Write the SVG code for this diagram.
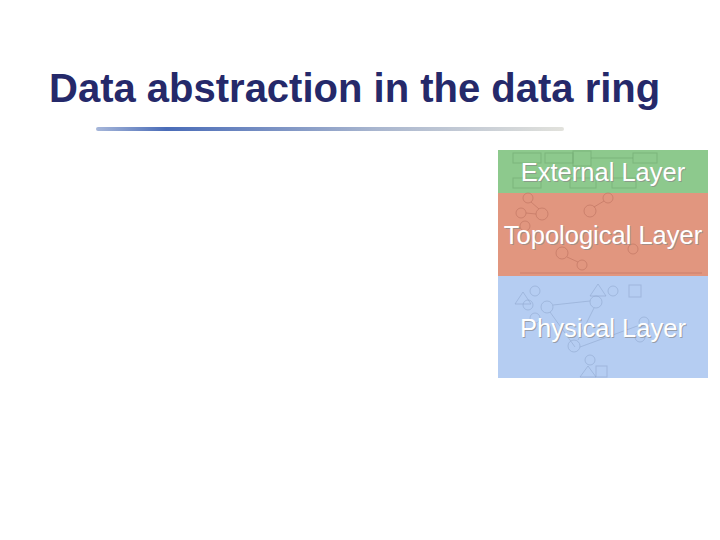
<svg xmlns="http://www.w3.org/2000/svg" width="720" height="540" viewBox="0 0 720 540">
<defs>
<linearGradient id="bar" x1="0" y1="0" x2="1" y2="0">
<stop offset="0" stop-color="#4f6fb5" stop-opacity="0.5"/>
<stop offset="0.15" stop-color="#4a6cb8"/>
<stop offset="0.6" stop-color="#a9b6cf"/>
<stop offset="1" stop-color="#e2e2dc"/>
</linearGradient>
<style>
.title{font-family:"Liberation Sans",Arial,sans-serif;font-weight:bold;font-size:40px;fill:#25296a}
.lbl{font-family:"Liberation Sans",Arial,sans-serif;font-size:25.5px;fill:#ffffff;text-anchor:middle}
.sh{fill:#8a8a8a;fill-opacity:0.7}
.g{fill:none;stroke-width:1;stroke-opacity:0.55}
.gc{stroke:#6fa56f}
.rc{stroke:#b9705c}
.bc{stroke:#8ea6cc}
</style>
</defs>
<rect width="720" height="540" fill="#ffffff"/>
<text class="title" x="49" y="102">Data abstraction in the data ring</text>
<rect x="96" y="127" width="468" height="4" rx="2" fill="url(#bar)"/>

<g id="external-layer">
<rect x="498" y="150" width="210" height="43" fill="#8dc98d"/>
<g class="g gc">
<rect x="513" y="153" width="28" height="10"/>
<rect x="545" y="153" width="28" height="10"/>
<rect x="573" y="151" width="18" height="15"/>
<rect x="633" y="153" width="24" height="10"/>
<line x1="591" y1="158" x2="633" y2="158"/>
<rect x="513" y="178" width="28" height="10"/>
<rect x="570" y="178" width="26" height="10"/>
<rect x="612" y="178" width="24" height="10"/>
</g>
<text class="lbl sh" x="604" y="182">External Layer</text>
<text class="lbl" x="603" y="181">External Layer</text>
</g>

<g id="topological-layer">
<rect x="498" y="193" width="210" height="83" fill="#e1967f"/>
<g class="g rc">
<circle cx="528" cy="198" r="5"/>
<circle cx="521" cy="213" r="5"/>
<circle cx="542" cy="214" r="6"/>
<circle cx="525" cy="226" r="5"/>
<circle cx="590" cy="211" r="6"/>
<circle cx="608" cy="198" r="5"/>
<line x1="594" y1="207" x2="604" y2="201"/>
<line x1="526" y1="213" x2="536" y2="214"/>
<line x1="531" y1="202" x2="539" y2="209"/>
<circle cx="562" cy="253" r="6"/>
<circle cx="582" cy="265" r="5"/>
<line x1="567" y1="257" x2="578" y2="262"/>
<circle cx="633" cy="249" r="5"/>
<line x1="520" y1="273" x2="702" y2="273"/>
</g>
<text class="lbl sh" x="604" y="245">Topological Layer</text>
<text class="lbl" x="603" y="244">Topological Layer</text>
</g>

<g id="physical-layer">
<rect x="498" y="276" width="210" height="102" fill="#b5cdf2"/>
<g class="g bc">
<circle cx="535" cy="291" r="5"/>
<circle cx="528" cy="305" r="5"/>
<circle cx="547" cy="307" r="6"/>
<circle cx="535" cy="318" r="5"/>
<circle cx="596" cy="302" r="6"/>
<circle cx="613" cy="291" r="5"/>
<rect x="629" y="285" width="12" height="12"/>
<polygon points="515,304 523,292 531,304"/>
<polygon points="590,296 598,284 606,296"/>
<line x1="553" y1="305" x2="590" y2="301"/>
<line x1="550" y1="312" x2="575" y2="347"/>
<line x1="594" y1="308" x2="578" y2="340"/>
<circle cx="574" cy="346" r="6"/>
<circle cx="590" cy="360" r="5"/>
<line x1="580" y1="347" x2="640" y2="325"/>
<circle cx="644" cy="322" r="5"/>
<circle cx="640" cy="337" r="5"/>
<polygon points="580,377 588,366 596,377"/>
<rect x="596" y="366" width="11" height="11"/>
</g>
<text class="lbl sh" x="604" y="338">Physical Layer</text>
<text class="lbl" x="603" y="337">Physical Layer</text>
</g>
</svg>
